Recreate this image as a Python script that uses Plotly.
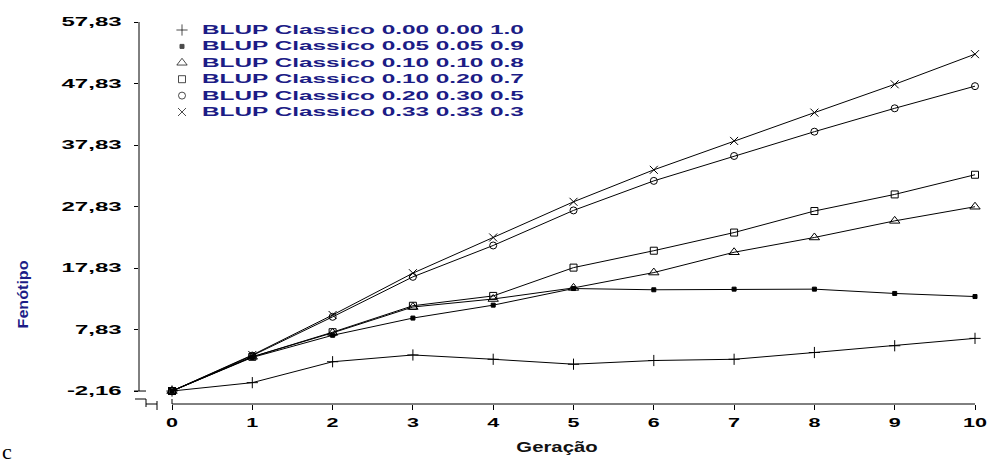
import plotly.graph_objects as go

# Generations and mean phenotype per selection scheme
geracao = [0, 1, 2, 3, 4, 5, 6, 7, 8, 9, 10]

s_000_000_10 = [-2.16, -0.8, 2.6, 3.7, 3.0, 2.2, 2.8, 3.0, 4.1, 5.2, 6.4]
s_005_005_09 = [-2.16, 3.3, 6.9, 9.7, 11.8, 14.5, 14.3, 14.4, 14.4, 13.7, 13.2]
s_010_010_08 = [-2.16, 3.4, 7.3, 11.5, 12.8, 14.6, 17.1, 20.4, 22.8, 25.5, 27.8]
s_010_020_07 = [-2.16, 3.4, 7.4, 11.7, 13.3, 17.9, 20.65, 23.6, 27.1, 29.8, 33.0]
s_020_030_05 = [-2.16, 3.6, 9.9, 16.4, 21.5, 27.2, 32.0, 36.05, 40.0, 43.8, 47.4]
s_033_033_03 = [-2.16, 3.7, 10.2, 17.0, 22.8, 28.6, 33.8, 38.5, 43.1, 47.7, 52.6]

nomes = [
    "BLUP Classico 0.00 0.00 1.0",
    "BLUP Classico 0.05 0.05 0.9",
    "BLUP Classico 0.10 0.10 0.8",
    "BLUP Classico 0.10 0.20 0.7",
    "BLUP Classico 0.20 0.30 0.5",
    "BLUP Classico 0.33 0.33 0.3",
]
series = [s_000_000_10, s_005_005_09, s_010_010_08, s_010_020_07, s_020_030_05, s_033_033_03]

y_tickvals = [-2.16, 7.83, 17.83, 27.83, 37.83, 47.83, 57.83]
y_ticktext = ["-2,16", "7,83", "17,83", "27,83", "37,83", "47,83", "57,83"]
x_tickvals = [0, 1, 2, 3, 4, 5, 6, 7, 8, 9, 10]

simbolos = ["cross-thin-open", "square", "triangle-up-open", "square-open", "circle-open", "x-thin-open"]
tamanhos = [8, 4, 9, 7, 7, 8]

NAVY = "#1c1c86"
FONT = "Liberation Sans, Arial, sans-serif"

# plot-area geometry in pixels (used for the paper-referenced decorations)
W, H = 998, 466
ML, MR, MT, MB = 139, 23, 22, 62
PW, PH = W - ML - MR, H - MT - MB


def px_x(p):
    return (p - ML) / PW


def px_y(p):
    return (H - MB - p) / PH


fig = go.Figure()

for nome, ys, sym, sz in zip(nomes, series, simbolos, tamanhos):
    fig.add_trace(go.Scatter(
        x=geracao, y=ys, name=nome, mode="lines+markers",
        line=dict(color="black", width=1),
        marker=dict(symbol=sym, size=sz, color="black", line=dict(color="black", width=1)),
        cliponaxis=False, showlegend=False,
    ))

# hand-built key (rows tighter than the native legend allows)
leg_x_mark, leg_x_text = 182, 200
leg_rows = [30, 46.4, 62.8, 79.2, 95.6, 112]
fig.add_trace(go.Scatter(
    x=[px_x(leg_x_mark)] * len(nomes), y=[px_y(r) for r in leg_rows],
    mode="markers", xaxis="x2", yaxis="y2", showlegend=False, hoverinfo="skip",
    marker=dict(symbol=simbolos, size=tamanhos, color="black", line=dict(color="black", width=1)),
    cliponaxis=False,
))

annotations = []
for nome, r in zip(nomes, leg_rows):
    annotations.append(dict(
        x=px_x(leg_x_text), y=px_y(r), xref="paper", yref="paper",
        xanchor="left", yanchor="middle", align="left", showarrow=False,
        text=nome, font=dict(family=FONT, size=12, color=NAVY, weight="bold"),
    ))

annotations.append(dict(
    x=px_x(23), y=px_y(295), xref="paper", yref="paper", textangle=-90,
    xanchor="center", yanchor="middle", showarrow=False,
    text="Fenótipo", font=dict(family=FONT, size=14, color=NAVY, weight="bold"),
))
annotations.append(dict(
    x=px_x(7), y=px_y(452), xref="paper", yref="paper",
    xanchor="center", yanchor="middle", showarrow=False,
    text="c", font=dict(family="Liberation Serif, Times New Roman, serif", size=22, color="black"),
))

line_k = dict(color="black", width=1)
shapes = [
    # y axis from -2,16 to 57,83
    dict(type="line", xref="paper", yref="y", x0=0, x1=0, y0=-2.16, y1=57.83, line=line_k),
    dict(type="line", xref="paper", yref="y", x0=px_x(134), x1=px_x(146), y0=-2.16, y1=-2.16, line=line_k),
    # axis break marks
    dict(type="line", xref="paper", yref="paper", x0=px_x(135), x1=px_x(146), y0=px_y(399), y1=px_y(399), line=line_k),
    dict(type="line", xref="paper", yref="paper", x0=px_x(146), x1=px_x(146), y0=px_y(399), y1=px_y(407), line=line_k),
    dict(type="line", xref="paper", yref="paper", x0=px_x(146), x1=px_x(157), y0=px_y(404), y1=px_y(404), line=line_k),
    dict(type="line", xref="paper", yref="paper", x0=px_x(157), x1=px_x(157), y0=px_y(401), y1=px_y(410), line=line_k),
    # x axis from generation 0 to 10
    dict(type="line", xref="x", yref="paper", x0=0, x1=10, y0=0, y1=0, line=line_k),
    dict(type="line", xref="x", yref="paper", x0=0, x1=0, y0=px_y(399), y1=0, line=line_k),
]

fig.update_layout(
    width=W, height=H,
    margin=dict(l=ML, r=MR, t=MT, b=MB, pad=0),
    paper_bgcolor="white", plot_bgcolor="white",
    font=dict(family=FONT, color="black"),
    showlegend=False,
    xaxis=dict(
        range=[-0.411, 10.0], tickvals=x_tickvals, ticktext=[str(v) for v in x_tickvals],
        ticks="outside", ticklen=5, tickcolor="black", tickwidth=1,
        showgrid=False, zeroline=False, showline=False,
        tickfont=dict(family=FONT, size=12, color="black", weight="bold"),
        ticklabelstandoff=3,
        title=dict(text="Geração", font=dict(family=FONT, size=14, color="#111", weight="bold"), standoff=12),
    ),
    yaxis=dict(
        range=[-4.27, 57.83], tickvals=y_tickvals, ticktext=y_ticktext,
        ticks="outside", ticklen=4, tickcolor="black", tickwidth=1,
        showgrid=False, zeroline=False, showline=False,
        tickfont=dict(family=FONT, size=12, color="black", weight="bold"),
        ticklabelstandoff=10,
    ),
    xaxis2=dict(range=[0, 1], overlaying="x", visible=False, fixedrange=True),
    yaxis2=dict(range=[0, 1], overlaying="y", visible=False, fixedrange=True),
    annotations=annotations,
    shapes=shapes,
)

# widen the bitmap-style lettering horizontally
post = """
var gd = document.getElementById('{plot_id}');
function stretch(list, f) {
  list.forEach(function (t) {
    t.removeAttribute('textLength');
    var w = t.getComputedTextLength();
    if (w > 0) {
      t.setAttribute('textLength', (w * f).toFixed(1));
      t.setAttribute('lengthAdjust', 'spacingAndGlyphs');
    }
  });
}
function widen() {
  var q = function (s) { return Array.prototype.slice.call(gd.querySelectorAll(s)); };
  stretch(q('.ytick text'), 2.0);
  stretch(q('.xtick text'), 1.8);
  stretch(q('.xtitle'), 1.45);
  var ann = q('.annotation-text');
  stretch(ann.filter(function (t) { return t.textContent.indexOf('BLUP') === 0; }), 2.03);
  stretch(ann.filter(function (t) { return t.textContent === 'Fenótipo'; }), 1.15);
}
widen();
gd.on('plotly_afterplot', widen);
"""

fig.write_html("out.html", post_script=post)
